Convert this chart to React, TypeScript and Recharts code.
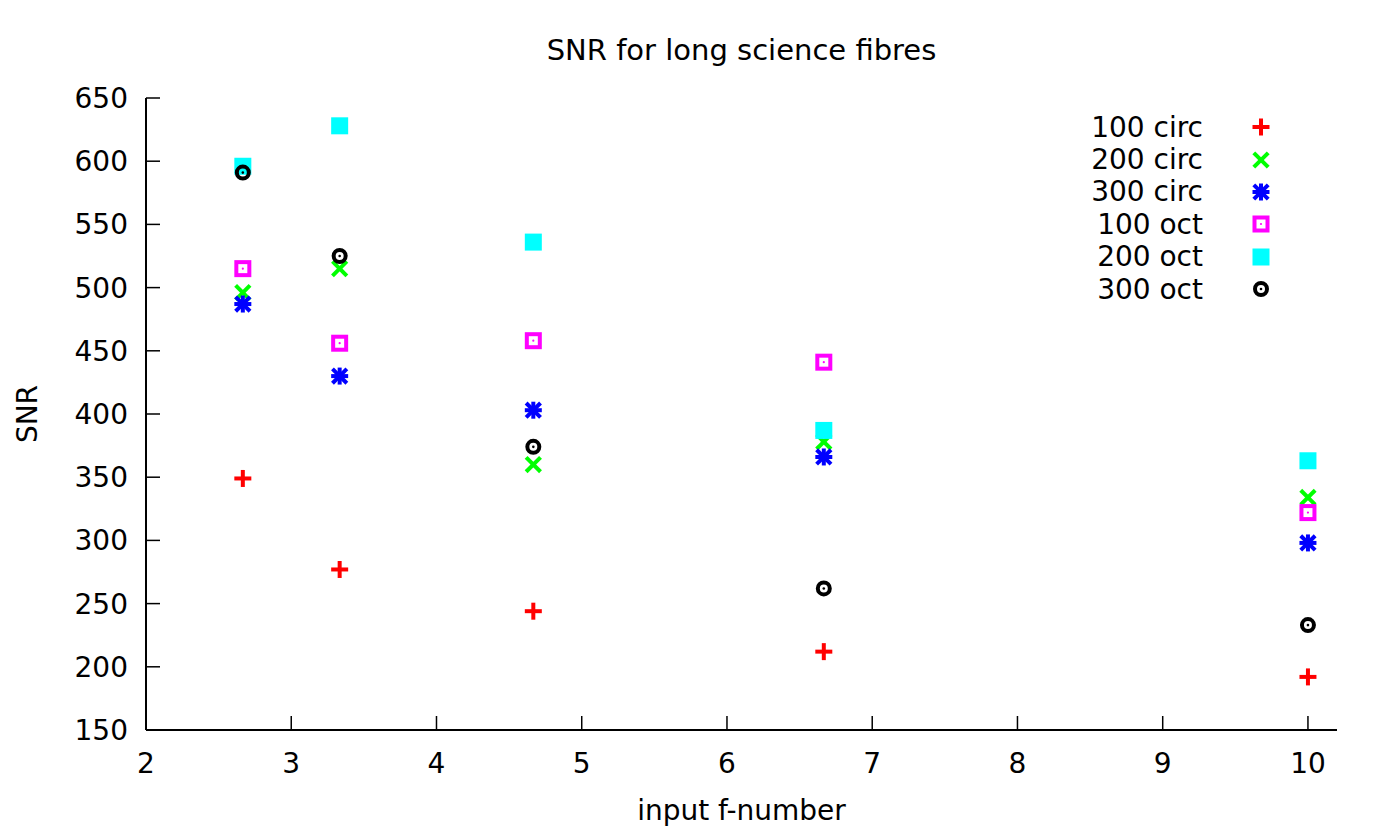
import { ScatterChart, Scatter, XAxis, YAxis, Legend } from 'recharts';

const fNumbers = [8 / 3, 10 / 3, 14 / 3, 20 / 3, 10];

const circ100 = [349, 277, 244, 212, 192];
const circ200 = [496, 515, 360, 378, 334];
const circ300 = [487, 430, 403, 366, 298];
const oct100 = [515, 456, 458, 441, 322];
const oct200 = [596, 628, 536, 387, 363];
const oct300 = [591, 525, 374, 262, 233];

const xTicks = [2, 3, 4, 5, 6, 7, 8, 9, 10];
const yTicks = [150, 200, 250, 300, 350, 400, 450, 500, 550, 600, 650];

type Kind = 'plus' | 'cross' | 'star' | 'openSquare' | 'square' | 'circle';

const series: { name: string; values: number[]; color: string; kind: Kind }[] = [
  { name: '100 circ', values: circ100, color: '#ff0000', kind: 'plus' },
  { name: '200 circ', values: circ200, color: '#00ff00', kind: 'cross' },
  { name: '300 circ', values: circ300, color: '#0000ff', kind: 'star' },
  { name: '100 oct', values: oct100, color: '#ff00ff', kind: 'openSquare' },
  { name: '200 oct', values: oct200, color: '#00ffff', kind: 'square' },
  { name: '300 oct', values: oct300, color: '#000000', kind: 'circle' },
];

const FONT = '"DejaVu Sans", sans-serif';
const FS = 28;

function Marker({ cx, cy, color, kind }: { cx: number; cy: number; color: string; kind: Kind }) {
  const h = 8.5;
  const sw = 4;
  if (kind === 'plus') {
    return (
      <g stroke={color} strokeWidth={sw}>
        <line x1={cx - h} y1={cy} x2={cx + h} y2={cy} />
        <line x1={cx} y1={cy - h} x2={cx} y2={cy + h} />
      </g>
    );
  }
  if (kind === 'cross') {
    const d = 7.2;
    return (
      <g stroke={color} strokeWidth={sw}>
        <line x1={cx - d} y1={cy - d} x2={cx + d} y2={cy + d} />
        <line x1={cx - d} y1={cy + d} x2={cx + d} y2={cy - d} />
      </g>
    );
  }
  if (kind === 'star') {
    const d = 7.2;
    return (
      <g stroke={color} strokeWidth={sw}>
        <line x1={cx - h} y1={cy} x2={cx + h} y2={cy} />
        <line x1={cx} y1={cy - h} x2={cx} y2={cy + h} />
        <line x1={cx - d} y1={cy - d} x2={cx + d} y2={cy + d} />
        <line x1={cx - d} y1={cy + d} x2={cx + d} y2={cy - d} />
      </g>
    );
  }
  if (kind === 'openSquare') {
    const s = h - sw / 2;
    return (
      <g>
        <rect x={cx - s} y={cy - s} width={2 * s} height={2 * s} fill="none" stroke={color} strokeWidth={sw} />
        <circle cx={cx} cy={cy} r={1.1} fill={color} />
      </g>
    );
  }
  if (kind === 'square') {
    return <rect x={cx - h} y={cy - h} width={2 * h} height={2 * h} fill={color} />;
  }
  return (
    <g>
      <circle cx={cx} cy={cy} r={6} fill="none" stroke={color} strokeWidth={sw} />
      <circle cx={cx} cy={cy} r={1.3} fill={color} />
    </g>
  );
}

function LegendBox() {
  return (
    <div style={{ fontFamily: FONT, fontSize: FS, color: '#000' }}>
      {series.map((s) => (
        <div key={s.name} style={{ display: 'flex', alignItems: 'center', height: 32.4 }}>
          <span style={{ width: 135, textAlign: 'right', whiteSpace: 'pre' }}>{s.name}</span>
          <svg width={24} height={24} style={{ marginLeft: 46 }}>
            <Marker cx={12} cy={12} color={s.color} kind={s.kind} />
          </svg>
        </div>
      ))}
    </div>
  );
}

export default function App() {
  const axisLine = { stroke: '#000', strokeWidth: 2 };
  const tickLine = { stroke: '#000', strokeWidth: 1.5 };
  const tickStyle = { fill: '#000', fontSize: FS, fontFamily: FONT };
  return (
    <div style={{ position: 'relative', width: 1381, height: 826, fontFamily: FONT, background: '#fff' }}>
      <div
        style={{
          position: 'absolute',
          top: 26,
          left: 0,
          width: 1467,
          textAlign: 'center',
          fontSize: 29,
          lineHeight: '32px',
          color: '#000',
        }}
      >
        SNR for long science fibres
      </div>
      <ScatterChart width={1381} height={826} margin={{ top: 90, right: 52, bottom: 44, left: 58 }}>
        <XAxis
          xAxisId="bottom"
          type="number"
          dataKey="x"
          domain={[2, 10.2]}
          ticks={xTicks}
          interval={0}
          height={60}
          axisLine={axisLine}
          tickLine={tickLine}
          tickSize={-14}
          tickMargin={37}
          tick={tickStyle}
          label={{
            content: (props: any) => {
              const vb = props.viewBox;
              return (
                <text x={vb.x + vb.width / 2} y={vb.y + 90} textAnchor="middle" fontSize={FS} fontFamily={FONT} fill="#000">
                  input f-number
                </text>
              );
            },
          }}
        />
        <XAxis
          xAxisId="top"
          orientation="top"
          type="number"
          dataKey="x"
          domain={[2, 10.2]}
          ticks={xTicks}
          interval={0}
          height={0}
          axisLine={axisLine}
          tickLine={tickLine}
          tickSize={-14}
          tickFormatter={() => ''}
        />
        <YAxis
          yAxisId="left"
          type="number"
          dataKey="y"
          domain={[150, 650]}
          ticks={yTicks}
          interval={0}
          width={80}
          axisLine={axisLine}
          tickLine={tickLine}
          tickSize={-14}
          tickMargin={32}
          tick={tickStyle}
          label={{
            content: (props: any) => {
              const vb = props.viewBox;
              const x = vb.x - 29;
              const y = vb.y + vb.height / 2;
              return (
                <text
                  x={x}
                  y={y}
                  transform={`rotate(-90, ${x}, ${y})`}
                  textAnchor="middle"
                  fontSize={FS}
                  fontFamily={FONT}
                  fill="#000"
                >
                  SNR
                </text>
              );
            },
          }}
        />
        <YAxis
          yAxisId="right"
          orientation="right"
          type="number"
          dataKey="y"
          domain={[150, 650]}
          ticks={yTicks}
          interval={0}
          width={0}
          axisLine={axisLine}
          tickLine={tickLine}
          tickSize={-14}
          tickFormatter={() => ''}
        />
        <Legend
          layout="vertical"
          align="center"
          verticalAlign="middle"
          wrapperStyle={{ top: 103, left: 1060, width: 220 }}
          content={() => <LegendBox />}
        />
        {series.map((s) => (
          <Scatter
            key={s.name}
            name={s.name}
            xAxisId="bottom"
            yAxisId="left"
            data={fNumbers.map((x, i) => ({ x, y: s.values[i] }))}
            fill={s.color}
            isAnimationActive={false}
            shape={(p: any) => <Marker cx={p.cx} cy={p.cy} color={s.color} kind={s.kind} />}
          />
        ))}
      </ScatterChart>
    </div>
  );
}
